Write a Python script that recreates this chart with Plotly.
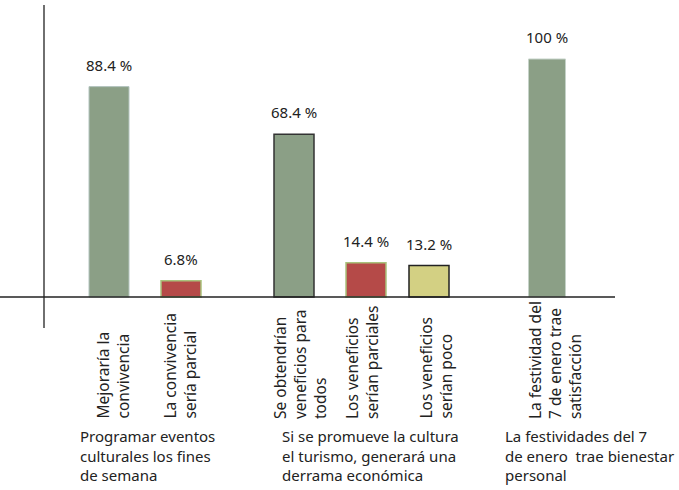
import plotly.graph_objects as go

# data
categories = [
    "Mejoraría la<br>convivencia",
    "La convivencia<br>sería parcial",
    "Se obtendrían<br>veneficios para<br>todos",
    "Los veneficios<br>serían parciales",
    "Los veneficios<br>serían poco",
    "La festividad del<br>7 de enero trae<br>satisfacción",
]
values = [88.4, 6.8, 68.4, 14.4, 13.2, 100]
value_labels = ["88.4 %", "6.8%", "68.4 %", "14.4 %", "13.2 %", "100 %"]
groups = [
    "Programar eventos<br>culturales los fines<br>de semana",
    "Si se promueve la cultura<br>el turismo, generará una<br>derrama económica",
    "La festividades del 7<br>de enero  trae bienestar<br>personal",
]

# layout (x units = pixels across the page)
x_pos = [109, 181, 294, 366, 429, 547]
widths = [40, 40, 40, 40, 40, 37]
fills = ["#8b9f86", "#b54a48", "#8b9f86", "#b54a48", "#d3d083", "#8b9f86"]
edges = ["#b3c4bf", "#a9c27c", "#333333", "#a9c27c", "#222222", "#c5d2c8"]
edge_w = [1, 1.5, 1.5, 1.5, 1.5, 1]
label_x = [112, 179, 300, 362, 435, 555]
group_x = [78, 280, 503]

FONT = "Noto Sans"
px = 2.38          # pixels per percentage unit
base = 297         # baseline pixel row
H, W = 490, 679

fig = go.Figure()
fig.add_trace(go.Bar(
    x=x_pos, y=values, width=widths,
    marker=dict(color=fills, line=dict(color=edges, width=edge_w)),
    hoverinfo="skip",
))

def ypix(p):
    return (base - p) / px

for x, v, t in zip(x_pos, values, value_labels):
    fig.add_annotation(x=x, y=v, text=t, showarrow=False, xanchor="center",
                       yanchor="bottom", yshift=10,
                       font=dict(family=FONT, size=15, color="#222"))

for x, t in zip(label_x, categories):
    fig.add_annotation(x=x, y=ypix(421), text=t, showarrow=False, textangle=-90,
                       align="left", xanchor="center", yanchor="bottom",
                       font=dict(family=FONT, size=15.5, color="#222"))

for x, t in zip(group_x, groups):
    fig.add_annotation(x=x, y=ypix(424), text=t, showarrow=False, align="left",
                       xanchor="left", yanchor="top",
                       font=dict(family=FONT, size=15, color="#222"))

# axis lines
fig.add_shape(type="line", x0=0, x1=615, y0=0, y1=0,
              line=dict(color="#222", width=1.3))
fig.add_shape(type="line", x0=44, x1=44, y0=ypix(5), y1=ypix(328),
              line=dict(color="#222", width=1.3))

fig.update_layout(
    width=W, height=H,
    margin=dict(l=0, r=0, t=0, b=0),
    paper_bgcolor="white", plot_bgcolor="white",
    showlegend=False,
    xaxis=dict(range=[0, W], visible=False, fixedrange=True),
    yaxis=dict(range=[ypix(H), ypix(0)], visible=False, fixedrange=True),
)

fig.write_html("out.html", config={"displayModeBar": False},
               post_script="document.body.style.margin='0px';")
